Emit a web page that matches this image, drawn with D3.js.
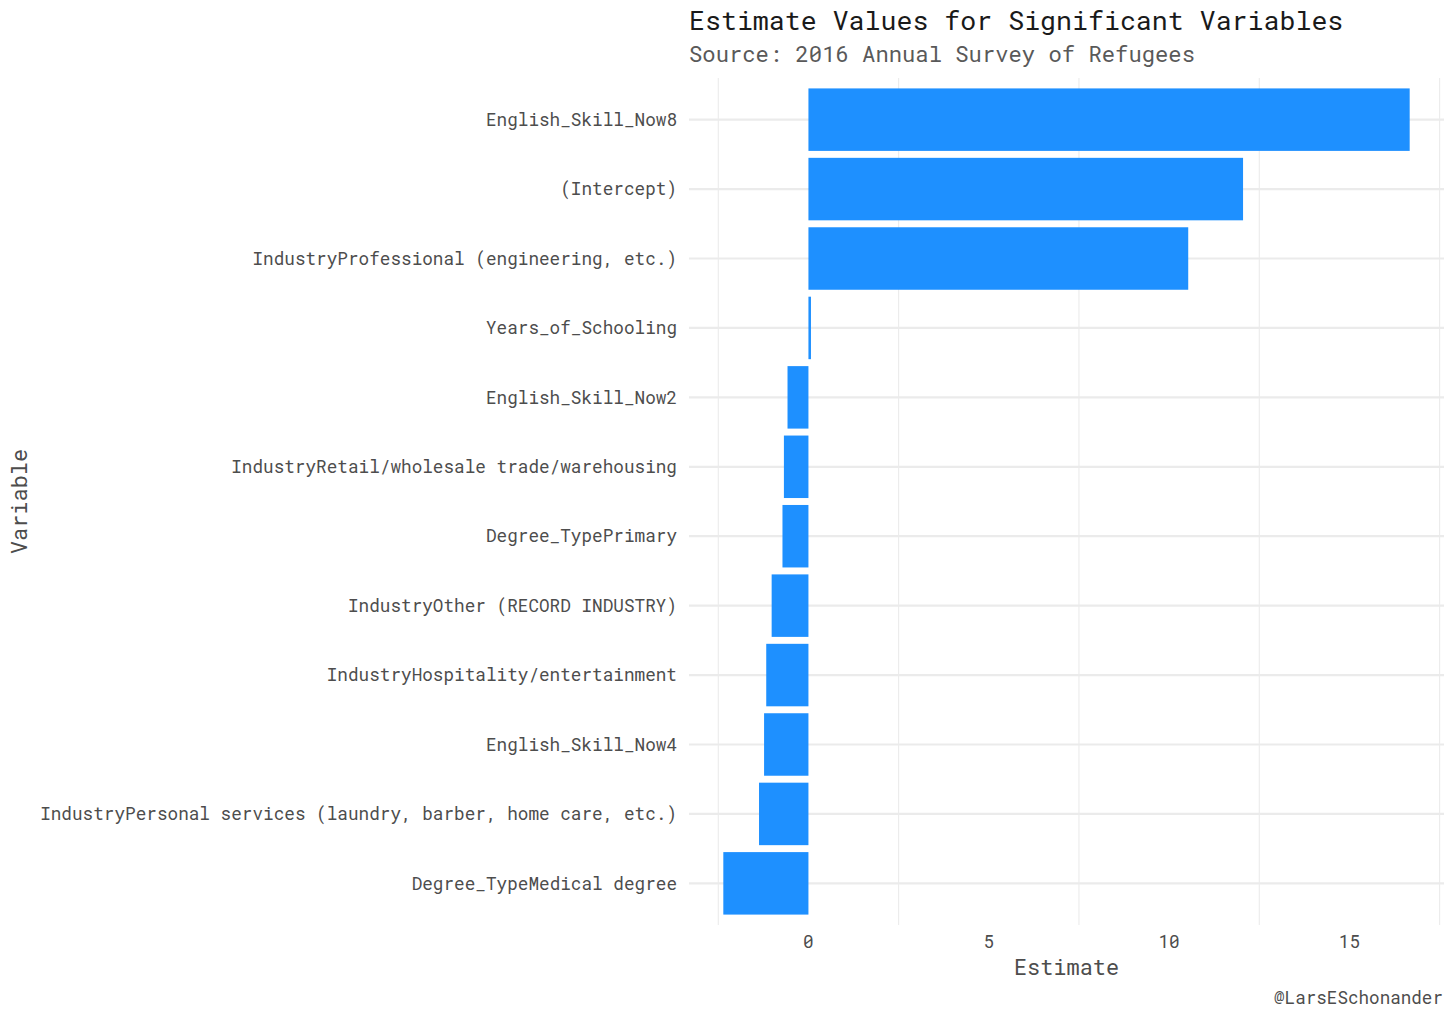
<!DOCTYPE html>
<html>
<head>
<meta charset="utf-8">
<script src="https://cdn.jsdelivr.net/npm/d3@7"></script>
<style>
  body { margin: 0; background: #fff; }
  text { font-family: "Roboto Mono", "DejaVu Sans Mono", monospace; }
</style>
</head>
<body>
<div id="chart"></div>
<script>
// variables, top to bottom
var variables = [
  "English_Skill_Now8",
  "(Intercept)",
  "IndustryProfessional (engineering, etc.)",
  "Years_of_Schooling",
  "English_Skill_Now2",
  "IndustryRetail/wholesale trade/warehousing",
  "Degree_TypePrimary",
  "IndustryOther (RECORD INDUSTRY)",
  "IndustryHospitality/entertainment",
  "English_Skill_Now4",
  "IndustryPersonal services (laundry, barber, home care, etc.)",
  "Degree_TypeMedical degree"
];
var estimates = [16.67, 12.05, 10.53, 0.07, -0.58, -0.68, -0.72, -1.02, -1.17, -1.23, -1.37, -2.36];

var xTicks = [0, 5, 10, 15];
var xMinor = [-2.5, 2.5, 7.5, 12.5, 17.5];

var W = 1456, H = 1019;
var panel = {left: 689, right: 1444, top: 78, bottom: 925};

var svg = d3.select("#chart").append("svg")
  .attr("width", W)
  .attr("height", H);

// 5% expansion like ggplot
var ext = d3.extent(estimates);
var pad = (ext[1] - ext[0]) * 0.05;
var x = d3.scaleLinear()
  .domain([ext[0] - pad, ext[1] + pad])
  .range([panel.left, panel.right]);

var y = d3.scalePoint()
  .domain(variables)
  .range([panel.top, panel.bottom])
  .padding(0.6);
var barH = y.step() * 0.9;

// grid
svg.selectAll(".vgrid")
  .data(xMinor)
  .enter()
  .append("line")
  .attr("x1", function(d){ return x(d); })
  .attr("x2", function(d){ return x(d); })
  .attr("y1", panel.top)
  .attr("y2", panel.bottom)
  .attr("stroke", "#ebebeb")
  .attr("stroke-width", 1.1);

svg.selectAll(".hgrid")
  .data(variables)
  .enter()
  .append("line")
  .attr("x1", panel.left)
  .attr("x2", panel.right)
  .attr("y1", function(d){ return y(d); })
  .attr("y2", function(d){ return y(d); })
  .attr("stroke", "#ebebeb")
  .attr("stroke-width", 2.2);

// bars
svg.selectAll(".bar")
  .data(variables)
  .enter()
  .append("rect")
  .attr("x", function(d, i){ return x(Math.min(0, estimates[i])); })
  .attr("width", function(d, i){ return Math.abs(x(estimates[i]) - x(0)); })
  .attr("y", function(d){ return y(d) - barH / 2; })
  .attr("height", barH)
  .attr("fill", "#1e90ff");

// y labels
svg.selectAll(".ylab")
  .data(variables)
  .enter()
  .append("text")
  .attr("x", panel.left - 12)
  .attr("y", function(d){ return y(d); })
  .attr("dy", "0.35em")
  .attr("text-anchor", "end")
  .attr("font-size", 17.7)
  .attr("fill", "#4d4d4d")
  .text(function(d){ return d; });

// x tick labels
svg.selectAll(".xlab")
  .data(xTicks)
  .enter()
  .append("text")
  .attr("x", function(d){ return x(d); })
  .attr("y", panel.bottom + 23)
  .attr("text-anchor", "middle")
  .attr("font-size", 17.7)
  .attr("fill", "#4d4d4d")
  .text(function(d){ return d; });

// axis titles
svg.append("text")
  .attr("x", (panel.left + panel.right) / 2)
  .attr("y", panel.bottom + 50)
  .attr("text-anchor", "middle")
  .attr("font-size", 21.9)
  .attr("fill", "#4d4d4d")
  .text("Estimate");

svg.append("text")
  .attr("transform", "translate(27," + ((panel.top + panel.bottom) / 2) + ") rotate(-90)")
  .attr("text-anchor", "middle")
  .attr("font-size", 21.9)
  .attr("fill", "#4d4d4d")
  .text("Variable");

// title + subtitle
svg.append("text")
  .attr("x", panel.left)
  .attr("y", 29.5)
  .attr("font-size", 26.6)
  .attr("fill", "#1a1a1a")
  .text("Estimate Values for Significant Variables");

svg.append("text")
  .attr("x", panel.left)
  .attr("y", 62)
  .attr("font-size", 22.2)
  .attr("fill", "#595959")
  .text("Source: 2016 Annual Survey of Refugees");

// caption
svg.append("text")
  .attr("x", 1443)
  .attr("y", 1004)
  .attr("text-anchor", "end")
  .attr("font-size", 17.6)
  .attr("fill", "#4d4d4d")
  .text("@LarsESchonander");
</script>
</body>
</html>
